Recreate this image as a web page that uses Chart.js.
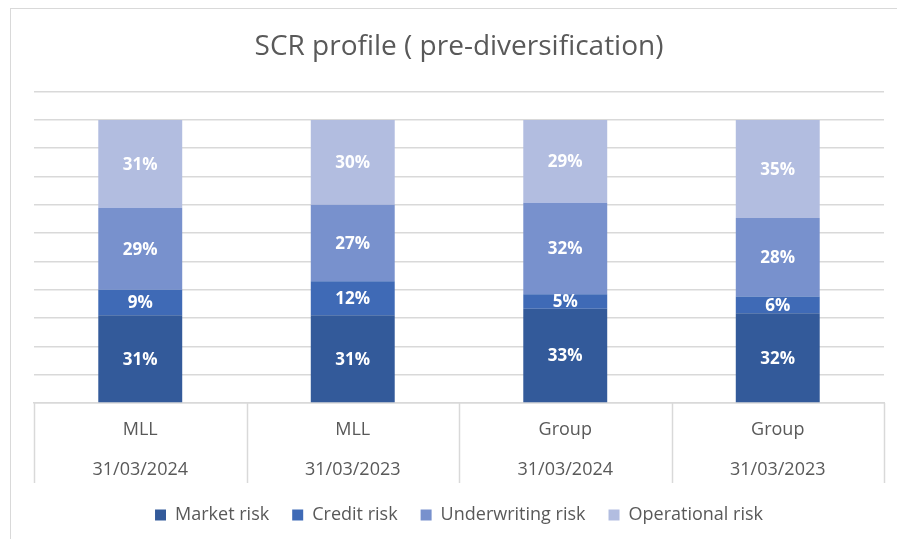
<!DOCTYPE html>
<html>
<head>
<meta charset="utf-8">
<script src="https://cdn.jsdelivr.net/npm/chart.js@4.4.0/dist/chart.umd.min.js"></script>
<style>
  html, body { margin: 0; padding: 0; background: #fff; overflow: hidden; }
  #frame { position: absolute; left: 10px; top: 8px; width: 900px; height: 540px;
           border: 1px solid #d9d9d9; }
  #wrap { position: absolute; left: 0; top: 0; width: 886px; height: 530px; }
</style>
</head>
<body>
<div id="frame"><div id="wrap"><canvas id="chart"></canvas></div></div>
<script>
// categories (entity / date)
const entities = ['MLL', 'MLL', 'Group', 'Group'];
const dates = ['31/03/2024', '31/03/2023', '31/03/2024', '31/03/2023'];

// risk shares in % (as labelled)
const marketRisk = [31, 31, 33, 32];
const creditRisk = [9, 12, 5, 6];
const underwritingRisk = [29, 27, 32, 28];
const operationalRisk = [31, 30, 29, 35];

const seriesNames = ['Market risk', 'Credit risk', 'Underwriting risk', 'Operational risk'];
const seriesColors = ['#335a9a', '#3f6ab6', '#7891cd', '#b2bde0'];

const allSeries = [marketRisk, creditRisk, underwritingRisk, operationalRisk];

/* totals per column, used for 100% stacking */
const totals = entities.map((e, i) => allSeries.reduce((s, arr) => s + arr[i], 0));

const datasets = allSeries.map((arr, k) => ({
    label: seriesNames[k],
    data: arr.map((v, i) => v / totals[i] * 100),
    rawValues: arr,
    backgroundColor: seriesColors[k],
    hoverBackgroundColor: seriesColors[k],
    categoryPercentage: 1.0,
    barPercentage: 0.395
}));

/* white bold value labels inside the bars */
const barLabels = {
    id: 'barLabels',
    afterDatasetsDraw(chart) {
        const ctx = chart.ctx;
        ctx.save();
        ctx.font = 'bold 17px "Open Sans"';
        ctx.fillStyle = '#ffffff';
        ctx.textAlign = 'center';
        ctx.textBaseline = 'middle';
        chart.data.datasets.forEach((ds, di) => {
            const meta = chart.getDatasetMeta(di);
            meta.data.forEach((bar, i) => {
                const p = bar.getCenterPoint();
                ctx.fillText(ds.rawValues[i] + '%', p.x, p.y + 1);
            });
        });
        ctx.restore();
    }
};

/* table-like dividers under the category axis */
const axisTable = {
    id: 'axisTable',
    afterDraw(chart) {
        const x = chart.scales.x;
        const ctx = chart.ctx;
        const n = chart.data.labels.length;
        const step = (x.right - x.left) / n;
        ctx.save();
        ctx.strokeStyle = '#d9d9d9';
        ctx.lineWidth = 1.5;
        for (let i = 0; i <= n; i++) {
            const px = Math.round(x.left + i * step) + 0.5;
            ctx.beginPath();
            ctx.moveTo(px, x.top);
            ctx.lineTo(px, x.top + 80);
            ctx.stroke();
        }
        ctx.restore();
    }
};

new Chart(document.getElementById('chart'), {
    type: 'bar',
    data: {
        labels: entities.map((e, i) => [e, dates[i]]),
        datasets: datasets
    },
    options: {
        responsive: true,
        maintainAspectRatio: false,
        animation: false,
        layout: { padding: { left: 23, right: 13, top: 0, bottom: 5 } },
        plugins: {
            title: {
                display: true,
                text: 'SCR profile ( pre-diversification)',
                color: '#595959',
                font: { family: 'Open Sans', size: 28, weight: 'normal' },
                padding: { top: 21, bottom: 28 }
            },
            legend: {
                position: 'bottom',
                labels: {
                    color: '#595959',
                    font: { family: 'Open Sans', size: 18 },
                    boxWidth: 11,
                    boxHeight: 11,
                    padding: 9,
                    generateLabels(chart) {
                        // wider gaps between items, like the original legend
                        const items = Chart.defaults.plugins.legend.labels.generateLabels(chart);
                        items.forEach((it, i) => {
                            if (i < items.length - 1) it.text = it.text + '   ';
                        });
                        return items;
                    }
                }
            },
            tooltip: { enabled: false }
        },
        scales: {
            x: {
                stacked: true,
                grid: { display: false, drawTicks: false, tickLength: 0 },
                border: { display: true, color: '#d9d9d9', width: 1.5 },
                ticks: {
                    color: '#595959',
                    font: { family: 'Open Sans', size: 18, lineHeight: '40px' },
                    padding: 7,
                    maxRotation: 0,
                    autoSkip: false
                }
            },
            y: {
                stacked: true,
                min: 0,
                max: 110,
                ticks: { display: false, stepSize: 10 },
                grid: { color: '#d9d9d9', drawTicks: false, lineWidth: 1.5 },
                border: { display: false }
            }
        }
    },
    plugins: [barLabels, axisTable]
});
</script>
</body>
</html>
